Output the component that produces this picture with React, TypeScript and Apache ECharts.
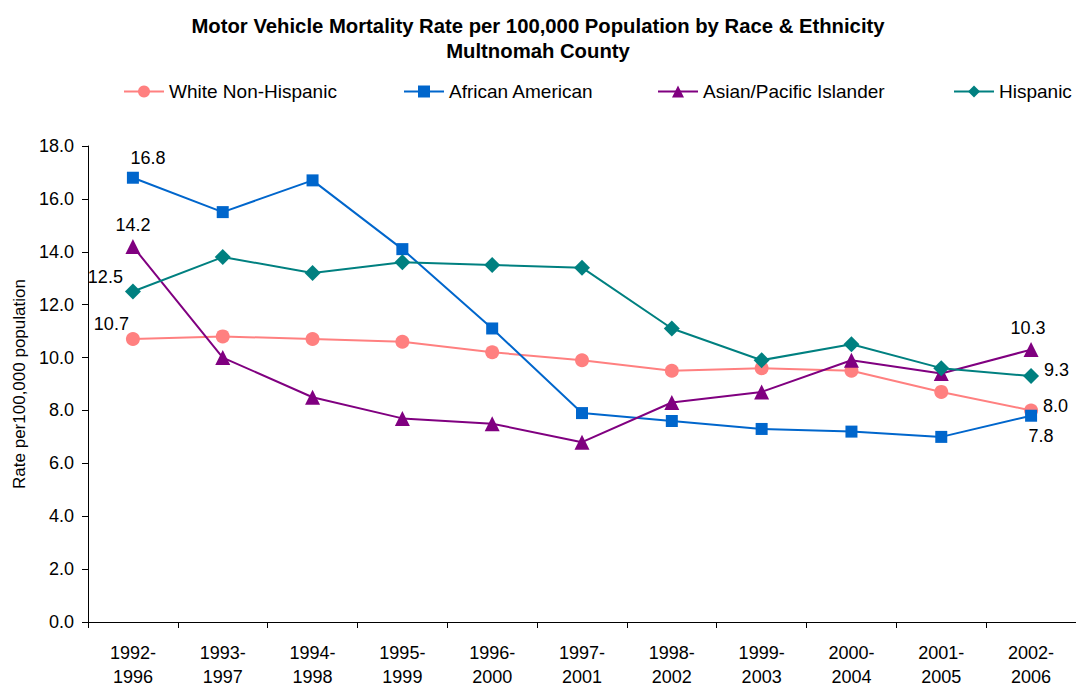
import React, { useEffect, useRef } from "react";
import * as echarts from "echarts";

const categories = [
  "1992-\n1996", "1993-\n1997", "1994-\n1998", "1995-\n1999", "1996-\n2000",
  "1997-\n2001", "1998-\n2002", "1999-\n2003", "2000-\n2004", "2001-\n2005", "2002-\n2006",
];
const whiteNonHispanic = [10.7, 10.8, 10.7, 10.6, 10.2, 9.9, 9.5, 9.6, 9.5, 8.7, 8.0];
const africanAmerican = [16.8, 15.5, 16.7, 14.1, 11.1, 7.9, 7.6, 7.3, 7.2, 7.0, 7.8];
const asianPacific = [14.2, 10.0, 8.5, 7.7, 7.5, 6.8, 8.3, 8.7, 9.9, 9.4, 10.3];
const hispanic = [12.5, 13.8, 13.2, 13.6, 13.5, 13.4, 11.1, 9.9, 10.5, 9.6, 9.3];
const yTicks = { min: 0, max: 18, interval: 2 };

const FONT = "Arial, 'Liberation Sans', sans-serif";

type LabelSpec = { position: string; offset: number[] };

function withLabels(values: number[], first: LabelSpec | null, last: LabelSpec | null) {
  return values.map((v, i) => {
    let spec: LabelSpec | null = null;
    if (i === 0) spec = first;
    if (i === values.length - 1) spec = last;
    if (!spec) return v;
    return {
      value: v,
      label: {
        show: true,
        position: spec.position,
        offset: spec.offset,
        distance: 5,
        formatter: (p: any) => Number(p.value).toFixed(1),
        color: "#000",
        fontSize: 18,
        fontFamily: FONT,
      },
    };
  });
}

export default function App() {
  const ref = useRef<HTMLDivElement>(null);
  useEffect(() => {
    if (!ref.current) return;
    const chart = echarts.init(ref.current, null, { renderer: "svg" });
    const mk = (name: string, data: any[], color: string, symbol: string, size: number) => ({
      name,
      type: "line",
      data,
      symbol,
      symbolSize: size,
      color,
      lineStyle: { color, width: 2 },
      itemStyle: { color },
      emphasis: { disabled: true },
    });
    const legendBase = {
      top: 82,
      padding: 0,
      itemWidth: 40,
      itemHeight: 15,
      textStyle: { fontSize: 19, color: "#000", fontFamily: FONT },
      selectedMode: false,
    };
    chart.setOption({
      animation: false,
      backgroundColor: "#fff",
      title: {
        text: "Motor Vehicle Mortality Rate per 100,000 Population by Race & Ethnicity\nMultnomah County",
        left: "center",
        top: 8,
        textStyle: { fontSize: 20.3, fontWeight: "bold", color: "#000", fontFamily: FONT, lineHeight: 25 },
      },
      legend: [
        { ...legendBase, left: 123, data: ["White Non-Hispanic"] },
        { ...legendBase, left: 403, data: ["African American"] },
        { ...legendBase, left: 657, data: ["Asian/Pacific Islander"] },
        { ...legendBase, left: 953, data: ["Hispanic"] },
      ],
      grid: { left: 88, right: 0, top: 146, bottom: 60, containLabel: false },
      xAxis: {
        type: "category",
        data: categories,
        boundaryGap: true,
        axisLine: { lineStyle: { color: "#000", width: 1 } },
        axisTick: { show: true, inside: false, length: 6, alignWithLabel: false, lineStyle: { color: "#000" } },
        axisLabel: { color: "#000", fontSize: 18, fontFamily: FONT, lineHeight: 24, margin: 19, interval: 0 },
        splitLine: { show: false },
      },
      yAxis: {
        type: "value",
        min: yTicks.min,
        max: yTicks.max,
        interval: yTicks.interval,
        name: "Rate per100,000 population",
        nameLocation: "middle",
        nameGap: 59,
        nameTextStyle: { fontSize: 17, color: "#000", fontFamily: FONT },
        axisLine: { show: true, lineStyle: { color: "#000", width: 1 } },
        axisTick: { show: true, inside: false, length: 6, lineStyle: { color: "#000" } },
        axisLabel: {
          color: "#000",
          fontSize: 18,
          fontFamily: FONT,
          margin: 14,
          formatter: (v: number) => v.toFixed(1),
        },
        splitLine: { show: false },
      },
      series: [
        mk(
          "White Non-Hispanic",
          withLabels(whiteNonHispanic, { position: "left", offset: [8, -15] }, { position: "right", offset: [0, -4] }),
          "#FF8080",
          "circle",
          14
        ),
        mk(
          "African American",
          withLabels(africanAmerican, { position: "top", offset: [15, 0] }, { position: "bottom", offset: [10, 0] }),
          "#0066CC",
          "rect",
          12
        ),
        mk(
          "Asian/Pacific Islander",
          withLabels(asianPacific, { position: "top", offset: [0, 0] }, { position: "top", offset: [-3, 0] }),
          "#800080",
          "triangle",
          15
        ),
        mk(
          "Hispanic",
          withLabels(hispanic, { position: "left", offset: [3, -14] }, { position: "right", offset: [0, -6] }),
          "#008080",
          "diamond",
          16
        ),
      ],
    });
    return () => chart.dispose();
  }, []);
  return <div ref={ref} style={{ width: 1076, height: 689, position: "absolute", left: 0, top: 0 }} />;
}
